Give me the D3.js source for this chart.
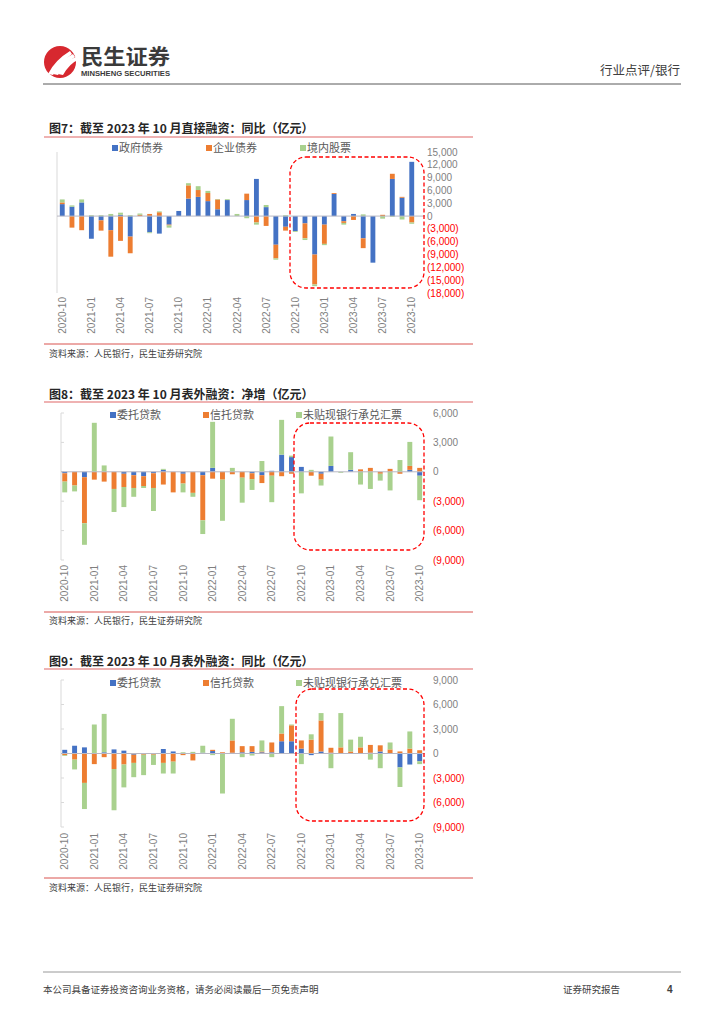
<!DOCTYPE html>
<html><head><meta charset="utf-8">
<script src="https://cdn.jsdelivr.net/npm/d3@7"></script>
<style>body{margin:0;background:#fff} svg{display:block}</style>
</head><body>
<svg id="page" width="724" height="1024"></svg>
<script>
// ---------- DATA ----------
const months = ["2020-10","2020-11","2020-12","2021-01","2021-02","2021-03","2021-04","2021-05","2021-06","2021-07","2021-08","2021-09",
"2021-10","2021-11","2021-12","2022-01","2022-02","2022-03","2022-04","2022-05","2022-06","2022-07","2022-08","2022-09",
"2022-10","2022-11","2022-12","2023-01","2023-02","2023-03","2023-04","2023-05","2023-06","2023-07","2023-08","2023-09","2023-10"];
const xTickLabels = ["2020-10","2021-01","2021-04","2021-07","2021-10","2022-01","2022-04","2022-07","2022-10","2023-01","2023-04","2023-07","2023-10"];

// 图7 直接融资 同比（亿元）
const c7Series = ["政府债券","企业债券","境内股票"];
const c7Gov    = [2800,2200,3200,-5300,-1000,-3300,300,-4800,0,-3800,-4100,-2000,1200,4100,4500,3500,1600,3750,0,3750,8700,2100,-6700,-2500,-3500,-1700,-9000,-2000,5200,-1200,500,-5200,-10900,0,8700,4300,12700];
const c7Corp   = [400,-2700,-3300,0,-2400,-6200,-5800,-3900,300,500,900,-200,0,3100,1600,1900,2300,0,0,1500,-1500,-2300,-3200,-900,0,-3500,-7000,-4500,200,-400,-900,-2300,0,300,1200,200,-1500];
const c7Equity = [700,300,700,200,200,500,500,200,300,-200,200,-500,0,500,900,500,100,200,500,-500,-500,500,-300,200,-200,-400,-400,-300,0,-400,0,400,0,-600,-200,-800,-300];
const c7Ticks  = [15000,12000,9000,6000,3000,0,-3000,-6000,-9000,-12000,-15000,-18000];

// 图8 表外融资 净增（亿元）
const c8Series    = ["委托贷款","信托贷款","未贴现银行承兑汇票"];
const c8Entrusted = [-150,0,-550,0,0,0,-200,-350,-450,-150,200,0,-200,0,-350,400,0,0,0,-150,-350,100,1750,1500,500,0,-200,600,0,200,0,0,0,0,0,200,-400];
const c8Trust     = [-850,-1400,-4700,-800,-1000,-1750,-1350,-1300,-1000,-1500,-1300,-2100,-1000,-2150,-4600,-700,-800,-250,-600,-600,-800,-400,-450,-200,0,-400,-600,0,0,0,250,400,-200,300,-200,400,400];
const c8Bills     = [-1100,-600,-2200,5000,650,-2350,-2050,-900,-200,-2350,100,0,-900,-400,-1400,4700,-4200,400,-2550,-1100,1100,-2700,3550,150,-2200,200,-600,3000,-100,1800,-1300,-1750,-700,-1900,1200,2450,-2500];
const c8Ticks     = [6000,3000,0,-3000,-6000,-9000];

// 图9 表外融资 同比（亿元）
const c9Series    = ["委托贷款","信托贷款","未贴现银行承兑汇票"];
const c9Entrusted = [450,950,750,0,150,500,350,-150,0,0,550,250,0,0,100,300,0,100,150,200,150,150,1500,1500,600,-200,250,100,0,0,0,100,250,0,-1700,-1350,-950];
const c9Trust     = [-200,-750,-3600,-1300,-450,-1900,-1350,-1000,-150,-150,-1150,-1000,-200,-850,0,150,150,1500,750,700,100,1200,950,1950,1000,1700,3800,600,750,250,750,950,750,500,250,600,400];
const c9Bills     = [-100,-1200,-3200,3550,4700,-5050,-2800,-1750,-2500,-1250,-1300,-1450,150,200,850,-200,-4900,2650,-450,-250,1350,-450,3350,100,-1300,650,900,-1800,4200,1450,1300,-750,-1800,850,-2400,2100,-350];
const c9Ticks     = [9000,6000,3000,0,-3000,-6000,-9000];

// ---------- STYLE ----------
const colors = ["#4472C4","#ED7D31","#A9D18E"];
const CJK = "'Noto Sans CJK SC','Noto Sans',sans-serif";
const NUM = "'Liberation Sans','DejaVu Sans',sans-serif";
const svg = d3.select("#page");
const fmt = v => v === 0 ? "0" : (v < 0 ? "(" + d3.format(",")(-v) + ")" : d3.format(",")(v));

// ---------- HEADER ----------
const logo = svg.append("g");
logo.append("circle").attr("cx",60).attr("cy",62).attr("r",16).attr("fill","#d7282f");
[0,1,2].forEach(k=>{
  logo.append("path")
    .attr("d",`M${48+k*5},${74} Q${55+k*5},${60} ${70+k*3},${51+k*3} L${72+k*3},${54+k*3} Q${60+k*5},${63} ${53+k*5},${75} Z`)
    .attr("fill","#fff");
});
svg.append("text").attr("x",81).attr("y",64).attr("font-family",CJK).attr("font-weight","bold")
  .attr("font-size",21).attr("fill","#3a3a3a").attr("textLength",89).attr("lengthAdjust","spacingAndGlyphs").text("民生证券");
svg.append("text").attr("x",81).attr("y",76).attr("font-family",NUM).attr("font-weight","bold")
  .attr("font-size",7).attr("fill","#3a3a3a").attr("textLength",89).attr("lengthAdjust","spacingAndGlyphs").text("MINSHENG SECURITIES");
svg.append("text").attr("x",680).attr("y",75).attr("text-anchor","end").attr("font-family",CJK)
  .attr("font-size",12.5).attr("fill","#404040").text("行业点评/银行");
svg.append("line").attr("x1",43).attr("x2",681).attr("y1",84).attr("y2",84).attr("stroke","#595959").attr("stroke-width",1);

// ---------- FOOTER ----------
svg.append("line").attr("x1",43).attr("x2",681).attr("y1",972).attr("y2",972).attr("stroke","#7f7f7f").attr("stroke-width",0.8);
svg.append("text").attr("x",43).attr("y",993).attr("font-family",CJK).attr("font-size",9.5).attr("fill","#404040")
  .text("本公司具备证券投资咨询业务资格，请务必阅读最后一页免责声明");
svg.append("text").attr("x",563).attr("y",993).attr("font-family",CJK).attr("font-size",9.5).attr("fill","#404040").text("证券研究报告");
svg.append("text").attr("x",667).attr("y",993).attr("font-family",NUM).attr("font-weight","bold").attr("font-size",10).attr("fill","#404040").text("4");

// ---------- CHART ----------
function drawChart(cfg){
  const g = svg.append("g");
  g.append("text").attr("x",49).attr("y",cfg.titleY).attr("font-family",CJK).attr("font-weight","bold")
    .attr("font-size",12).attr("fill","#262626").text(cfg.title);
  g.append("line").attr("x1",44).attr("x2",473).attr("y1",cfg.underlineY).attr("y2",cfg.underlineY)
    .attr("stroke","#e06666").attr("stroke-width",1.2);

  const x = d3.scaleBand().domain(months).range(cfg.xRange).paddingInner(0.5).paddingOuter(0.25);
  const y = d3.scaleLinear().domain([d3.min(cfg.ticks), d3.max(cfg.ticks)]).range([cfg.yBottom, cfg.yTop]);

  g.append("line").attr("x1",cfg.axisX).attr("x2",cfg.axisX).attr("y1",y(d3.max(cfg.ticks))).attr("y2",y(d3.min(cfg.ticks)))
    .attr("stroke","#d9d9d9").attr("stroke-width",1);
  if (cfg.leftTicks) {
    g.selectAll(".lt").data(cfg.ticks).join("line")
      .attr("x1",cfg.axisX).attr("x2",cfg.axisX+3).attr("y1",d=>y(d)).attr("y2",d=>y(d))
      .attr("stroke","#d9d9d9");
  }

  const rows = months.map((m,i)=>({m, a:cfg.data[0][i], b:cfg.data[1][i], c:cfg.data[2][i]}));
  const stacked = d3.stack().keys(["a","b","c"]).offset(d3.stackOffsetDiverging)(rows);
  stacked.forEach((layer,k)=>{
    g.append("g").attr("fill",colors[k]).selectAll("rect").data(layer).join("rect")
      .attr("x",d=>x(d.data.m)).attr("width",x.bandwidth())
      .attr("y",d=>y(Math.max(d[0],d[1])))
      .attr("height",d=>Math.abs(y(d[0])-y(d[1])));
  });

  g.append("line").attr("x1",cfg.axisX).attr("x2",cfg.zeroEnd).attr("y1",y(0)).attr("y2",y(0))
    .attr("stroke","#b8b8c4").attr("stroke-width",1);

  g.selectAll(".rt").data(cfg.ticks).join("text")
    .attr("x",cfg.tickX).attr("y",d=>y(d)).attr("dy","0.35em")
    .attr("font-family",NUM).attr("font-size",10)
    .attr("fill",d=>d<0?"#ff0000":"#7f7f7f").text(fmt);

  g.selectAll(".xl").data(xTickLabels).join("text")
    .attr("transform",d=>`translate(${x(d)+x.bandwidth()/2},${cfg.labelTop}) rotate(-90)`)
    .attr("text-anchor","end").attr("dy","0.35em")
    .attr("font-family",NUM).attr("font-size",10).attr("fill","#7f7f7f").text(d=>d);

  cfg.series.forEach((s,k)=>{
    g.append("rect").attr("x",cfg.legendX[k]).attr("y",cfg.legendY-3).attr("width",6).attr("height",6).attr("fill",colors[k]);
    g.append("text").attr("x",cfg.legendX[k]+7).attr("y",cfg.legendY).attr("dy","0.36em")
      .attr("font-family",CJK).attr("font-size",11).attr("fill","#595959").text(s);
  });

  const r = cfg.box;
  g.append("rect").attr("x",r[0]).attr("y",r[1]).attr("width",r[2]).attr("height",r[3]).attr("rx",16).attr("ry",16)
    .attr("fill","none").attr("stroke","#ff0000").attr("stroke-width",1.3).attr("stroke-dasharray","4,2.5");

  g.append("line").attr("x1",44).attr("x2",473).attr("y1",cfg.sourceLineY).attr("y2",cfg.sourceLineY)
    .attr("stroke","#d9534f").attr("stroke-width",1);
  g.append("text").attr("x",49).attr("y",cfg.sourceY).attr("font-family",CJK).attr("font-size",9)
    .attr("fill","#404040").text("资料来源：人民银行，民生证券研究院");
}

drawChart({
  title:"图7：截至 2023 年 10 月直接融资：同比（亿元）", titleY:133, underlineY:137,
  series:c7Series, data:[c7Gov,c7Corp,c7Equity], ticks:c7Ticks,
  yTop:152, yBottom:293, xRange:[57.4,416.6], axisX:57, zeroEnd:425, leftTicks:false,
  tickX:427, labelTop:297, legendX:[112,206,300], legendY:148,
  box:[290,157,134,131], sourceLineY:344, sourceY:357
});
drawChart({
  title:"图8：截至 2023 年 10 月表外融资：净增（亿元）", titleY:399, underlineY:402,
  series:c8Series, data:[c8Entrusted,c8Trust,c8Bills], ticks:c8Ticks,
  yTop:413, yBottom:560, xRange:[59.8,424.6], axisX:61, zeroEnd:424.6, leftTicks:true,
  tickX:433, labelTop:565, legendX:[110,203,296], legendY:415,
  box:[294,423,130,127], sourceLineY:612, sourceY:624
});
drawChart({
  title:"图9：截至 2023 年 10 月表外融资：同比（亿元）", titleY:666, underlineY:669,
  series:c9Series, data:[c9Entrusted,c9Trust,c9Bills], ticks:c9Ticks,
  yTop:680, yBottom:827, xRange:[59.8,424.6], axisX:61, zeroEnd:424.6, leftTicks:true,
  tickX:433, labelTop:833, legendX:[110,203,296], legendY:683,
  box:[296,689,128,132], sourceLineY:878, sourceY:891
});
</script>
</body></html>
